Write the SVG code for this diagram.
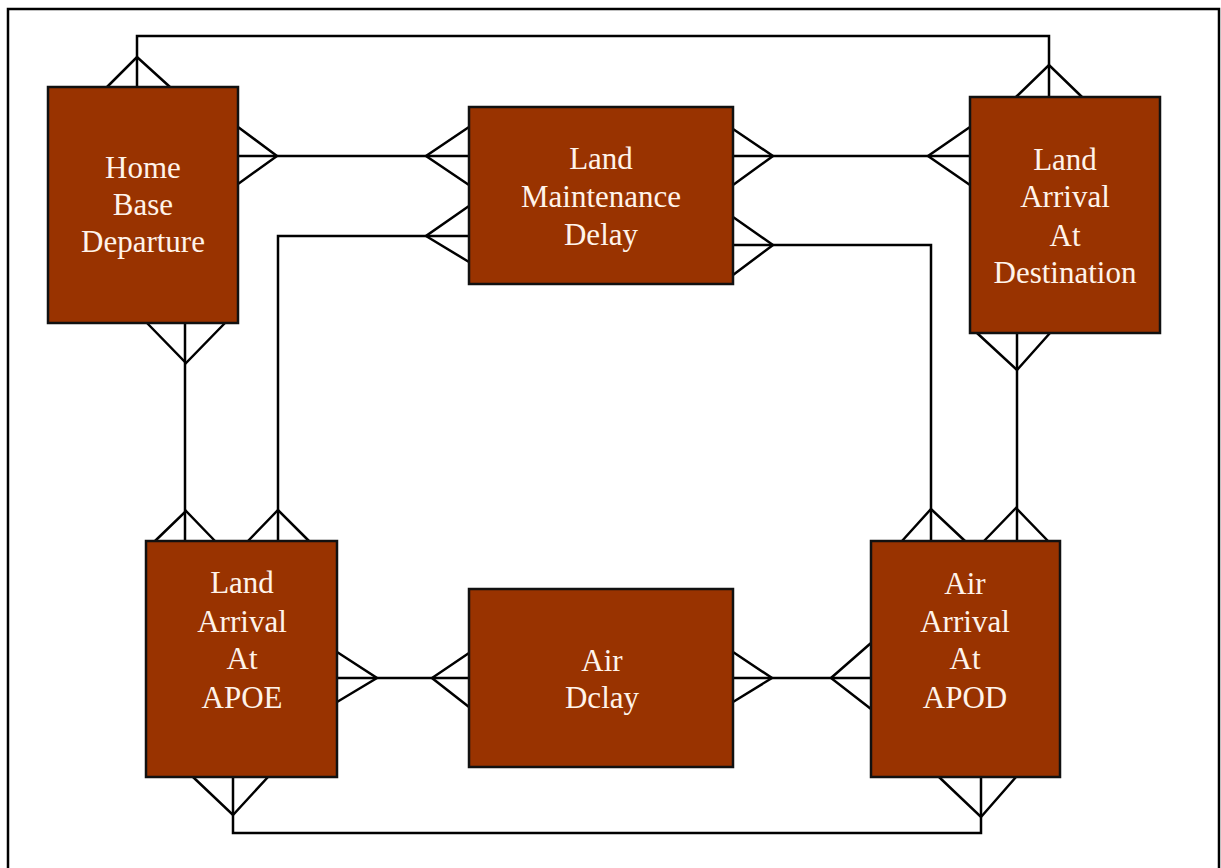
<svg xmlns="http://www.w3.org/2000/svg" width="1221" height="868" viewBox="0 0 1221 868">
<style>
.frame{fill:none;stroke:#000;stroke-width:2.5}
.c{fill:none;stroke:#000;stroke-width:2.5;stroke-linejoin:miter}
.box{fill:#993300;stroke:#111;stroke-width:2.5}
.t{font-family:"Liberation Serif","Times New Roman",serif;font-size:31px;fill:#fff3ea;text-anchor:middle}
</style>
<rect width="1221" height="868" fill="#fff"/>
<path class="frame" d="M8,870 V9 H1219 V870"/>
<g id="connectors">
<path class="c" d="M137,87 V36 H1049 V97"/>
<path class="c" d="M107,87 L137,57 L170,87"/>
<path class="c" d="M1016,97 L1049,65 L1082,97"/>
<path class="c" d="M238,156 H469"/>
<path class="c" d="M238,127 L277,156 L238,184"/>
<path class="c" d="M469,127 L426,156 L469,185"/>
<path class="c" d="M733,156 H970"/>
<path class="c" d="M733,129 L773,156 L733,185"/>
<path class="c" d="M970,127 L928,156 L970,185"/>
<path class="c" d="M469,236 H278 V541"/>
<path class="c" d="M469,206 L426,236 L469,262"/>
<path class="c" d="M248,541 L278,510 L309,541"/>
<path class="c" d="M733,245 H931 V541"/>
<path class="c" d="M733,217 L773,245 L733,275"/>
<path class="c" d="M902,541 L931,509 L965,541"/>
<path class="c" d="M1017,333 V541"/>
<path class="c" d="M977,333 L1017,370 L1050,333"/>
<path class="c" d="M984,541 L1016,508 L1048,541"/>
<path class="c" d="M185,323 V541"/>
<path class="c" d="M147,323 L186,363 L225,323"/>
<path class="c" d="M155,541 L186,511 L215,541"/>
<path class="c" d="M337,678 H469"/>
<path class="c" d="M337,652 L377,678 L337,702"/>
<path class="c" d="M469,653 L432,678 L469,707"/>
<path class="c" d="M733,678 H871"/>
<path class="c" d="M733,652 L772,678 L733,702"/>
<path class="c" d="M871,643 L831,678 L871,709"/>
<path class="c" d="M233,777 V833 H981 V777"/>
<path class="c" d="M193,777 L233,815 L268,777"/>
<path class="c" d="M939,777 L981,817 L1016,777"/>
</g>
<g id="home-base-departure">
<rect class="box" x="48" y="87" width="190" height="236"/>
<text class="t" x="143" y="178">Home</text>
<text class="t" x="143" y="215">Base</text>
<text class="t" x="143" y="252">Departure</text>
</g>
<g id="land-maintenance-delay">
<rect class="box" x="469" y="107" width="264" height="177"/>
<text class="t" x="601" y="169">Land</text>
<text class="t" x="601" y="207">Maintenance</text>
<text class="t" x="601" y="245">Delay</text>
</g>
<g id="land-arrival-destination">
<rect class="box" x="970" y="97" width="190" height="236"/>
<text class="t" x="1065" y="170">Land</text>
<text class="t" x="1065" y="207">Arrival</text>
<text class="t" x="1065" y="246">At</text>
<text class="t" x="1065" y="283">Destination</text>
</g>
<g id="land-arrival-apoe">
<rect class="box" x="146" y="541" width="191" height="236"/>
<text class="t" x="242" y="593">Land</text>
<text class="t" x="242" y="632">Arrival</text>
<text class="t" x="242" y="669">At</text>
<text class="t" x="242" y="708">APOE</text>
</g>
<g id="air-delay">
<rect class="box" x="469" y="589" width="264" height="178"/>
<text class="t" x="602" y="671">Air</text>
<text class="t" x="602" y="708">Dclay</text>
</g>
<g id="air-arrival-apod">
<rect class="box" x="871" y="541" width="189" height="236"/>
<text class="t" x="965" y="594">Air</text>
<text class="t" x="965" y="632">Arrival</text>
<text class="t" x="965" y="669">At</text>
<text class="t" x="965" y="708">APOD</text>
</g>
</svg>
